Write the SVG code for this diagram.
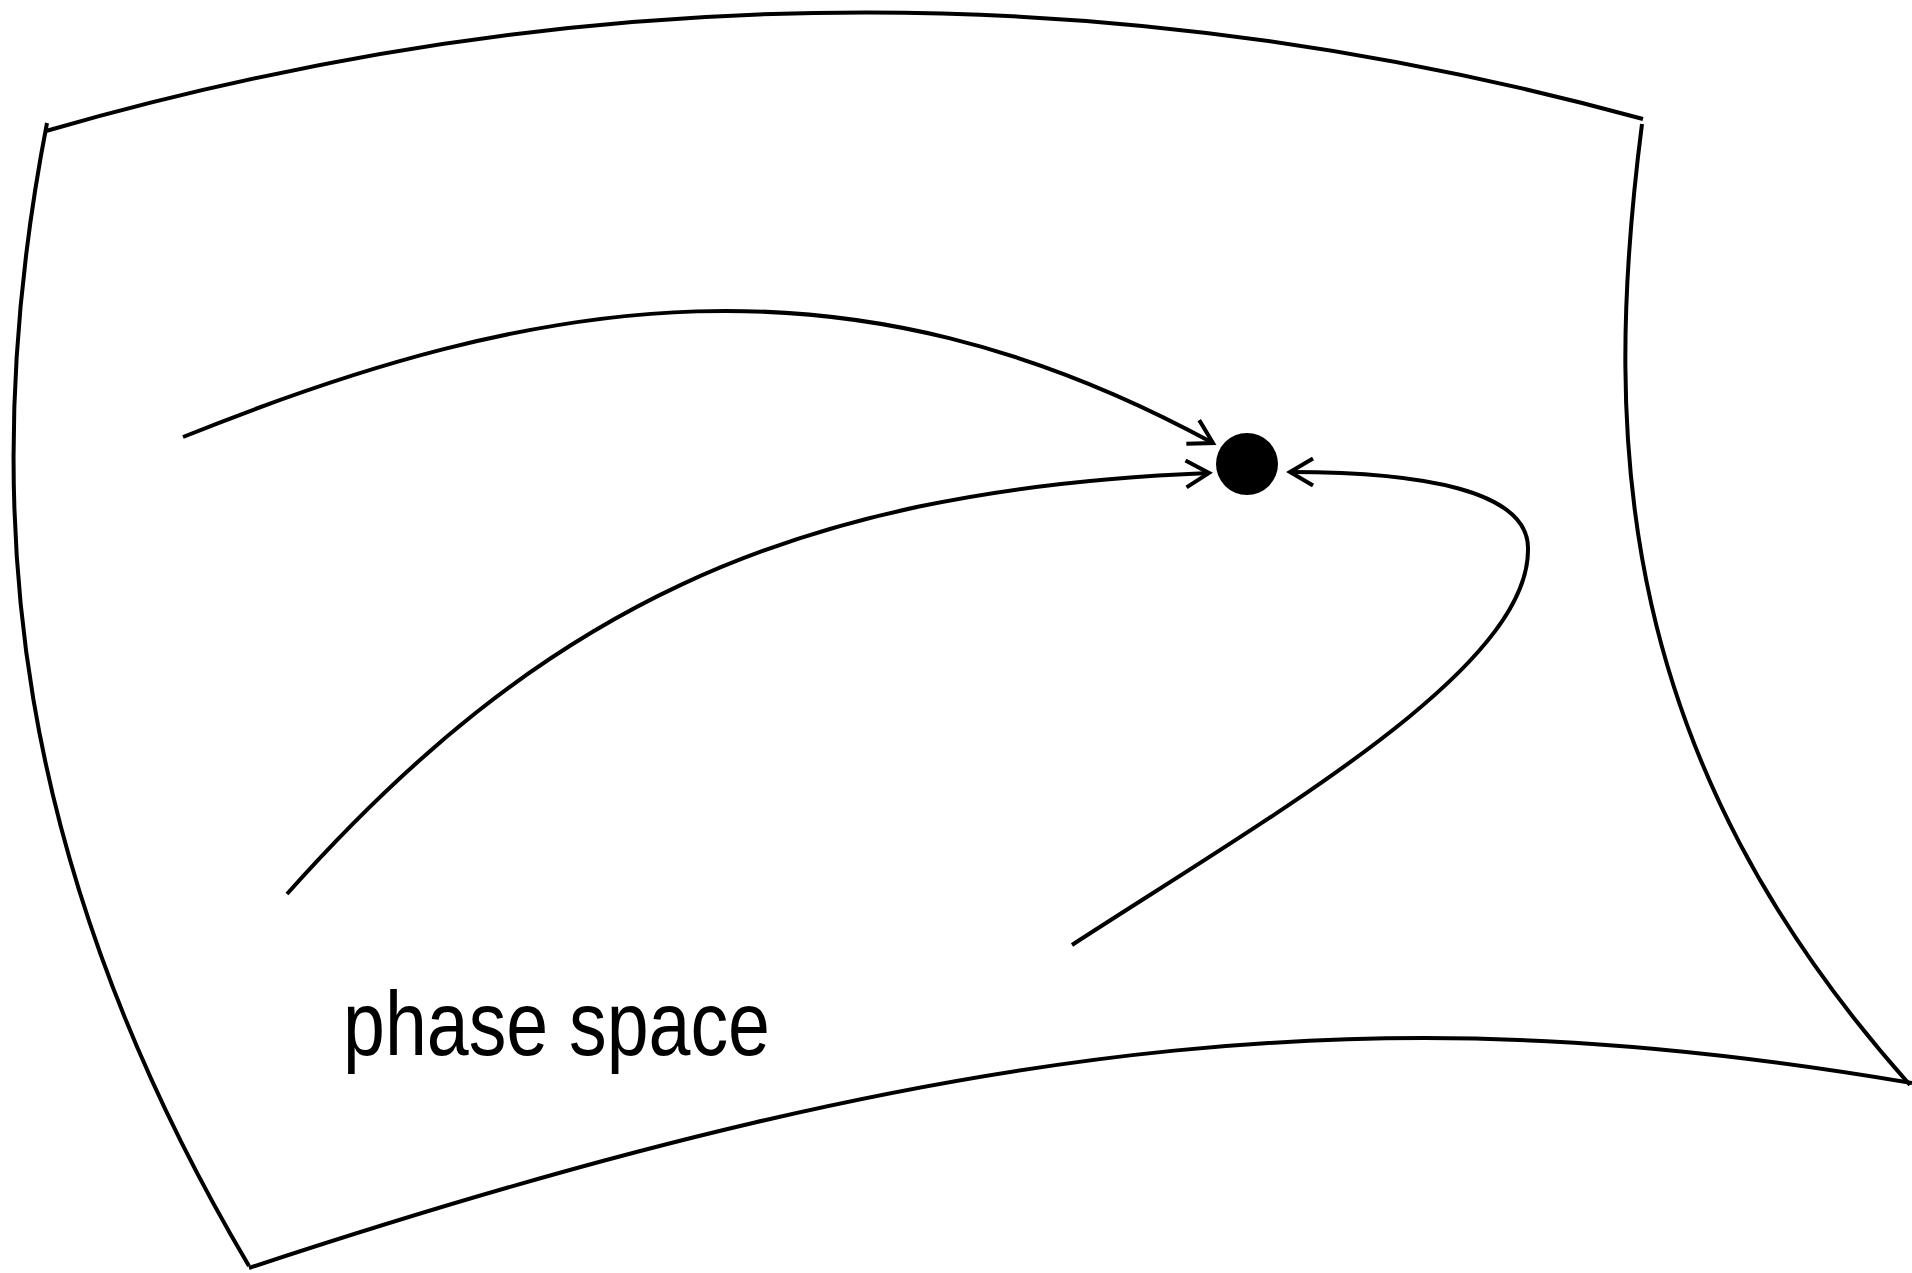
<svg xmlns="http://www.w3.org/2000/svg" width="1912" height="1273" viewBox="0 0 1912 1273">
  <style>
    .edge { fill: none; stroke: #000; stroke-width: 4; stroke-linecap: butt; }
    .flow { fill: none; stroke: #000; stroke-width: 4; }
    .label { font-family: "Liberation Sans", "DejaVu Sans", sans-serif; font-size: 90px; fill: #000; }
  </style>
  <defs>
    <marker id="arrow" markerUnits="userSpaceOnUse" markerWidth="40" markerHeight="40" viewBox="-30 -20 40 40" refX="0" refY="0" orient="auto">
      <path d="M-23,-13.5 L0,0 L-23,13.5" fill="none" stroke="#000" stroke-width="4"/>
    </marker>
  </defs>
  <rect width="1912" height="1273" fill="#fff"/>
  <g id="phase-space-sheet">
    <path class="edge" d="M46,131 Q845,-100 1643,119"/>
    <path class="edge" d="M47,123 C-30,520 20,880 249,1266"/>
    <path class="edge" d="M1642,124 C1600,450 1620,760 1910,1085"/>
    <path class="edge" d="M249,1268 C999,1020 1412,998 1912,1083"/>
  </g>
  <g id="attractor">
    <circle cx="1247" cy="464" r="31" fill="#000"/>
  </g>
  <g id="label">
    <text class="label" x="343" y="1055" textLength="427" lengthAdjust="spacingAndGlyphs">phase space</text>
  </g>
  <g id="connectors">
    <path class="flow" d="M183,437 C543,292 849,245 1213,443" marker-end="url(#arrow)"/>
    <path class="flow" d="M287,894 C537,614 780,490 1209,473" marker-end="url(#arrow)"/>
    <path class="flow" d="M1072,945 C1272,815 1528,670 1528,550 C1530,490 1420,472 1290,472" marker-end="url(#arrow)"/>
  </g>
</svg>
